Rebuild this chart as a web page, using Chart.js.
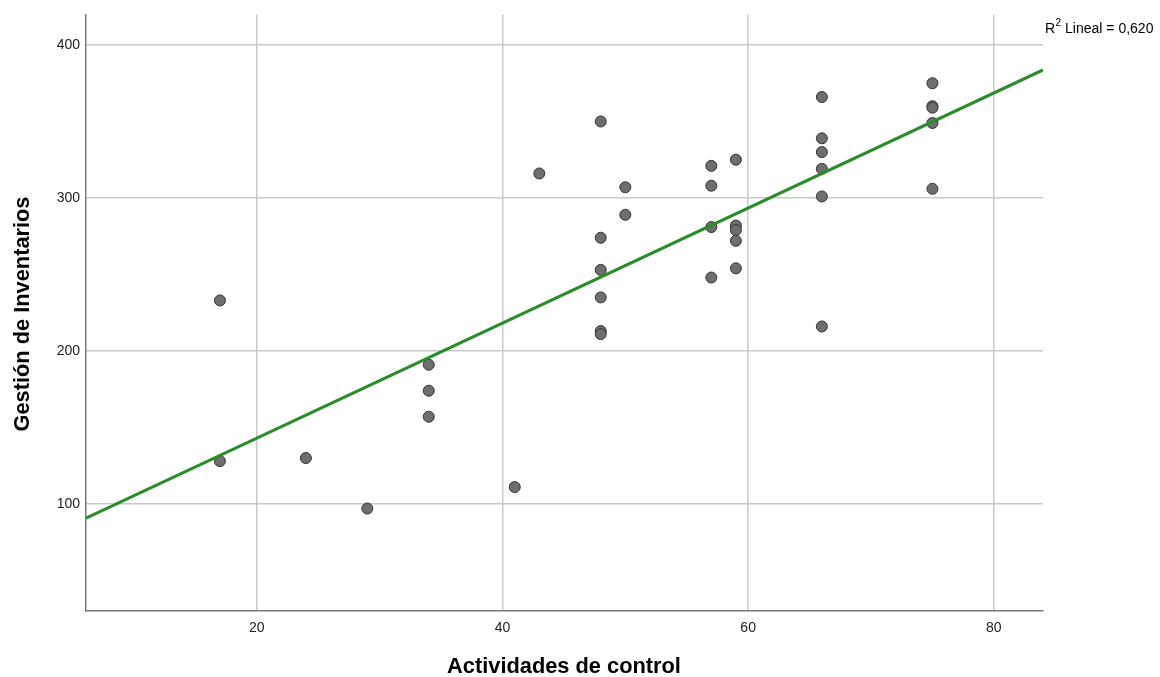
<!DOCTYPE html>
<html>
<head>
<meta charset="utf-8">
<script src="https://cdn.jsdelivr.net/npm/chart.js@4/dist/chart.umd.min.js"></script>
<style>
html,body{margin:0;padding:0;background:#fff;}
#wrap{width:1160px;height:677px;position:relative;}
</style>
</head>
<body>
<div id="wrap"><canvas id="c" width="1160" height="677"></canvas></div>
<script>
// Data
const actividades = [17,17,24,29,34,34,34,41,43,48,48,48,48,48,48,50,50,57,57,57,57,59,59,59,59,59,66,66,66,66,66,66,75,75,75,75,75];
const gestion     = [233,128,130,97,191,174,157,111,316,350,274,253,235,213,211,307,289,321,308,281,248,325,282,279,272,254,366,339,330,319,301,216,375,360,359,349,306];
const xTicks = [20,40,60,80];
const yTicks = [100,200,300,400];
const xTitle = "Actividades de control";
const yTitle = "Gestión de Inventarios";
const r2Label = " Lineal = 0,620";

const xMin = 6.1, xMax = 84, yMin = 30, yMax = 420;

// least squares fit line
const n = actividades.length;
const mx = actividades.reduce((a,b)=>a+b,0)/n;
const my = gestion.reduce((a,b)=>a+b,0)/n;
let sxy=0,sxx=0;
for(let i=0;i<n;i++){sxy+=(actividades[i]-mx)*(gestion[i]-my);sxx+=(actividades[i]-mx)**2;}
const slope = sxy/sxx, intercept = my - slope*mx;
const fitLine = [{x:xMin,y:intercept+slope*xMin},{x:xMax,y:intercept+slope*xMax}];

const points = actividades.map((x,i)=>({x:x,y:gestion[i]}));

const FONT = '"Liberation Sans", Arial, sans-serif';

const textPlugin = {
  id:'texts',
  afterDraw(chart){
    const ctx = chart.ctx;
    const a = chart.chartArea;
    ctx.save();
    ctx.fillStyle = '#000';
    ctx.font = 'bold 21.8px ' + FONT;
    ctx.textAlign = 'center';
    ctx.textBaseline = 'middle';
    ctx.fillText(xTitle, 564, 667);
    ctx.translate(23, 314);
    ctx.rotate(-Math.PI/2);
    ctx.fillText(yTitle, 0, 0);
    ctx.restore();
    ctx.save();
    ctx.fillStyle = '#000';
    ctx.textBaseline = 'alphabetic';
    ctx.textAlign = 'left';
    ctx.font = '14px ' + FONT;
    let x0 = 1045, yb = 32.5;
    ctx.fillText('R', x0, yb);
    let w = ctx.measureText('R').width;
    ctx.font = '10px ' + FONT;
    ctx.fillText('2', x0+w+0.5, yb-6.5);
    let w2 = ctx.measureText('2').width;
    ctx.font = '14px ' + FONT;
    ctx.fillText(r2Label, x0+w+0.5+w2, yb);
    ctx.restore();
  }
};

new Chart(document.getElementById('c'), {
  type:'scatter',
  data:{
    datasets:[
      {
        label:'Ajuste lineal',
        data:fitLine,
        showLine:true,
        borderColor:'#2b8c2b',
        borderWidth:3,
        pointRadius:0,
        fill:false,
        order:0
      },
      {
        label:'Datos',
        data:points,
        pointRadius:5.5,
        pointBackgroundColor:'#6e6e6e',
        pointBorderColor:'#333333',
        pointBorderWidth:1,
        order:1
      }
    ]
  },
  plugins:[textPlugin],
  options:{
    responsive:false,
    animation:false,
    devicePixelRatio:1,
    layout:{padding:{top:14,right:117,left:0,bottom:0}},
    plugins:{legend:{display:false},tooltip:{enabled:false}},
    scales:{
      x:{
        type:'linear',
        min:xMin,max:xMax,
        afterBuildTicks(s){s.ticks = xTicks.map(v=>({value:v}));},
        afterFit(s){s.height = 66;},
        grid:{color:'#c9c9c9',lineWidth:1.5,drawTicks:false},
        border:{color:'#7a7a7a',width:1.5},
        ticks:{color:'#222',font:{family:FONT,size:14},padding:9,maxRotation:0}
      },
      y:{
        type:'linear',
        min:yMin,max:yMax,
        afterBuildTicks(s){s.ticks = yTicks.map(v=>({value:v}));},
        afterFit(s){s.width = 86;},
        grid:{color:'#c9c9c9',lineWidth:1.5,drawTicks:false},
        border:{color:'#7a7a7a',width:1.5},
        ticks:{color:'#222',font:{family:FONT,size:14},padding:6}
      }
    }
  }
});
</script>
</body>
</html>
